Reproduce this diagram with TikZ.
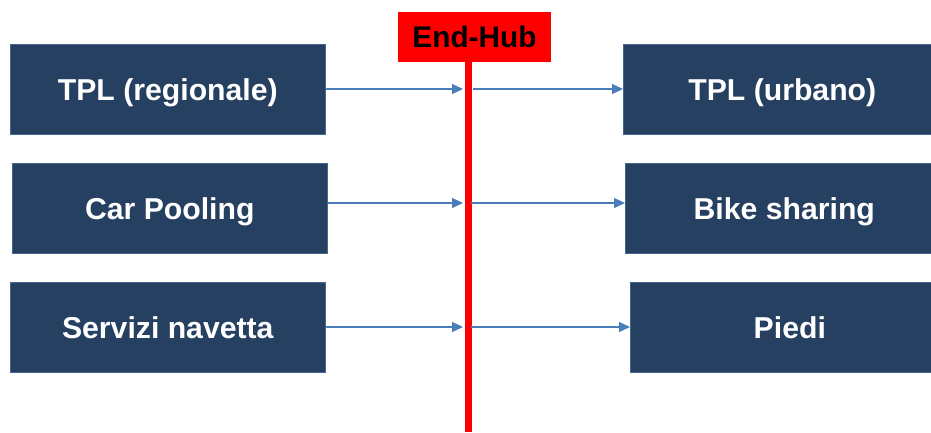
\documentclass[tikz,border=0pt]{standalone}
\usepackage{fontspec}
\setmainfont{Liberation Sans}
\usetikzlibrary{arrows.meta}
\definecolor{boxblue}{RGB}{38,64,97}
\definecolor{boxedge}{RGB}{70,100,140}
\definecolor{flowblue}{RGB}{74,126,187}
\tikzset{
  modebox/.style={rectangle, fill=boxblue, draw=boxedge, line width=0.6pt,
    text=white, font=\bfseries\fontsize{30.2}{35}\selectfont,
    text height=21.5pt, text depth=0pt,
    minimum height=90pt, inner sep=0pt, anchor=north west},
  hubbox/.style={rectangle, fill=red, text=black,
    font=\bfseries\fontsize{29.8}{35}\selectfont,
    text height=21.5pt, text depth=0pt,
    minimum width=153pt, minimum height=50pt, inner sep=0pt},
  hubline/.style={draw=red, line width=7pt},
  flow/.style={draw=flowblue, line width=1.2pt,
    -{Triangle[length=11pt,width=10pt]}}
}
\begin{document}
\begin{tikzpicture}[x=1pt,y=-1pt]
\useasboundingbox[fill=white] (0,0) rectangle (931,432);

% origin modes (left column)
\node[modebox, minimum width=315pt] (l1) at (10,44) {TPL (regionale)};
\node[modebox, minimum width=315pt] (l2) at (12,163) {Car Pooling};
\node[modebox, minimum width=315pt] (l3) at (10,282) {Servizi navetta};

% destination modes (right column, running past the right edge)
\node[modebox, minimum width=318pt] (r1) at (623,44) {TPL (urbano)};
\node[modebox, minimum width=318pt] (r2) at (625,163) {Bike sharing};
\node[modebox, minimum width=319pt] (r3) at (630,282) {Piedi};

% the hub and its vertical line
\coordinate (bottom) at (468,432);
\draw[hubline] (468,55) -- (bottom);
\node[hubbox] (hub) at (474.5,37) {End-Hub};

% points on the hub line where the flows meet it
\coordinate (in1) at (463,89);
\coordinate (out1) at (473,89);
\coordinate (in2) at (463,203);
\coordinate (out2) at (471,203);
\coordinate (in3) at (463,327);
\coordinate (out3) at (471,327);

% flows into and out of the hub
\draw[flow] (l1.east |- in1) -- (in1);
\draw[flow] (out1) -- (r1.west |- out1);
\draw[flow] (l2.east |- in2) -- (in2);
\draw[flow] (out2) -- (r2.west |- out2);
\draw[flow] (l3.east |- in3) -- (in3);
\draw[flow] (out3) -- (r3.west |- out3);
\end{tikzpicture}
\end{document}
